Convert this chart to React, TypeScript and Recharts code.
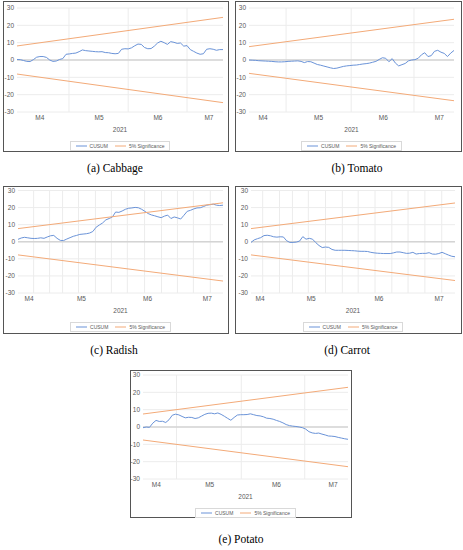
import React from 'react';
import { LineChart, Line, XAxis, YAxis, CartesianGrid, ReferenceLine, Legend } from 'recharts';

const monthLabels = ['M4', 'M5', 'M6', 'M7'];
const yTicks = [-30, -20, -10, 0, 10, 20, 30];
const legendOrder = ['CUSUM', '5% Significance'];

// CUSUM values, one per observation (64 observations, Apr - Jul 2021)
const cabbageCusum = [
  0.3, 0.2, -0.3, -0.8, -0.9, 0.2, 1.6, 2.0, 2.0, 1.5,
  0.0, -0.8, -0.6, 0.3, 0.8, 3.3, 3.5, 3.8, 4.0, 4.8,
  5.8, 5.4, 5.2, 5.0, 4.8, 4.7, 4.8, 4.3, 4.2, 3.8,
  3.6, 3.8, 6.2, 6.5, 6.4, 7.0, 8.2, 9.2, 9.0, 7.2,
  6.5, 6.6, 8.0, 9.8, 10.8, 10.0, 9.0, 10.6, 10.2, 9.6,
  9.8, 8.0, 8.3, 6.0, 5.0, 4.0, 3.3, 3.6, 6.2, 6.5,
  6.2, 5.6, 6.0, 6.0,
];
const tomatoCusum = [
  0, -0.1, -0.2, -0.4, -0.5, -0.6, -0.7, -0.8, -1.0, -1.1,
  -1.1, -1.0, -0.8, -0.7, -0.6, -0.5, -0.8, -1.5, -0.9, -1.0,
  -1.8, -2.6, -3.0, -3.5, -4.0, -4.5, -4.9, -4.7, -4.2, -3.7,
  -3.4, -3.2, -3.0, -2.9, -2.6, -2.3, -2.1, -1.8, -1.3, -0.8,
  0.3, 1.3, 1.0, -1.0, 0.8, -1.8, -3.4, -2.7, -2.0, -0.5,
  0.0, 0.2, 1.0, 3.0, 4.2, 2.0, 2.5, 5.0, 5.6, 4.5,
  3.8, 2.0, 4.0, 5.5,
];
const radishCusum = [
  1.4, 2.2, 2.6, 2.3, 2.0, 1.9, 2.0, 2.3, 2.0, 2.8,
  3.5, 3.7, 2.0, 0.8, 0.7, 1.6, 2.4, 3.2, 3.7, 4.3,
  4.5, 4.7, 5.1, 6.0, 8.5, 9.8, 11.0, 12.8, 13.6, 14.5,
  17.4, 17.2, 18.0, 19.0, 19.6, 19.8, 20.1, 19.9, 19.0, 17.8,
  16.5, 15.7, 15.2, 14.6, 14.1, 15.0, 15.6, 13.6, 14.5, 14.0,
  13.3, 15.5, 17.8, 18.4, 19.2, 19.8, 19.9, 20.6, 21.4, 21.7,
  22.0, 21.4, 21.2, 21.4,
];
const carrotCusum = [
  -0.4, 1.1, 1.8, 2.4, 3.6, 3.8, 3.5, 2.9, 2.7, 2.9,
  2.8, 0.6, -0.4, -0.4, -0.2, 0.4, 3.0, 1.5, 2.0, 1.5,
  -0.5, -2.2, -3.4, -3.1, -3.3, -4.5, -5.0, -5.0, -5.0, -5.0,
  -5.1, -5.2, -5.3, -5.5, -5.6, -5.6, -5.7, -6.2, -6.5, -6.7,
  -6.8, -6.9, -6.9, -6.9, -6.5, -6.0, -6.0, -6.4, -6.8, -6.7,
  -6.2, -7.2, -6.9, -6.8, -6.8, -6.4, -7.2, -7.3, -6.9, -6.2,
  -7.0, -7.8, -8.5, -8.8,
];
const potatoCusum = [
  -0.4, 0.0, -0.2, 2.2, 3.8, 3.2, 3.3, 2.6, 4.2, 6.8,
  7.4, 7.0, 6.1, 5.3, 5.6, 5.5, 4.9, 5.3, 6.3, 7.3,
  7.9, 8.0, 7.6, 8.1, 7.3, 6.2, 5.0, 3.9, 5.5, 6.9,
  7.1, 7.1, 7.2, 7.6, 7.1, 6.6, 6.4, 5.9, 5.1, 4.9,
  4.5, 3.8, 3.2, 2.4, 1.4, 0.8, 0.5, 0.3, 0.0, -0.4,
  -1.2, -2.7, -3.4, -3.7, -3.5, -4.1, -4.6, -5.2, -5.3, -5.5,
  -6.0, -6.4, -6.8, -7.1,
];

// 5% significance bounds: [first observation, last observation]
const cabbageUpper = [8.1, 24.6];
const cabbageLower = [-8.1, -24.6];
const tomatoUpper = [7.7, 23.5];
const tomatoLower = [-7.7, -23.5];
const radishUpper = [7.7, 22.8];
const radishLower = [-7.7, -23.0];
const carrotUpper = [7.7, 22.7];
const carrotLower = [-7.7, -22.7];
const potatoUpper = [7.5, 22.9];
const potatoLower = [-7.5, -22.9];

// observation index where each month label sits
const cabbageMonthAt = [7.0, 25.1, 43.1, 58.7];
const tomatoMonthAt = [4.3, 21.4, 41.3, 58.5];
const radishMonthAt = [3.4, 19.5, 39.8, 58.2];
const carrotMonthAt = [2.8, 18.6, 39.5, 58.1];
const potatoMonthAt = [4.1, 20.5, 41.0, 58.4];

// observation index of vertical gridlines
const cabbageGrid = [15.9, 34.0, 52.0];
const tomatoGrid = [11.4, 31.4, 50.7];
const radishGrid = [4.8, 9.7, 13.7, 18.6, 23.8, 28.7, 33.6, 38.9, 44.1, 49.0, 53.9, 59.1];
const carrotGrid = [3.6, 8.8, 12.8, 17.7, 23.0, 28.2, 33.1, 38.3, 43.5, 48.5, 53.7, 58.9];
const potatoGrid = [10.3, 30.2, 49.7];

const BLUE = '#6a93d8';
const ORANGE = '#f3aa78';
const TEXT = '#595959';
const FONT = '"Liberation Sans", Arial, sans-serif';

const bandRows = (pair: number[], last: number) => [
  { x: 0, y: pair[0] },
  { x: last, y: pair[1] },
];

const LegendBox = ({ payload }: any) => {
  const items = legendOrder
    .map((name) => (payload || []).find((p: any) => p.value === name))
    .filter(Boolean);
  return (
    <div style={{ height: 19, display: 'flex', alignItems: 'flex-end', justifyContent: 'center' }}>
      <div
        style={{
          display: 'flex',
          alignItems: 'center',
          flexShrink: 0,
          whiteSpace: 'nowrap',
          border: '1px solid #d9d9d9',
          height: 8,
          padding: '0 5px',
          fontFamily: FONT,
          fontSize: 5,
          lineHeight: '8px',
          color: TEXT,
          gap: 7,
        }}
      >
        {items.map((p: any) => (
          <span key={p.value} style={{ display: 'flex', alignItems: 'center', gap: 3, flexShrink: 0 }}>
            <svg width={11} height={4} style={{ flexShrink: 0 }}>
              <line x1={0} y1={2} x2={11} y2={2} stroke={p.color} strokeWidth={1} />
            </svg>
            <span style={{ flexShrink: 0 }}>{p.value}</span>
          </span>
        ))}
      </div>
    </div>
  );
};

interface Box {
  left: number;
  top: number;
  w: number;
  h: number;
  pl: number;
  pr: number;
  pt: number;
  pb: number;
}

interface PanelProps {
  title: string;
  cusum: number[];
  upper: number[];
  lower: number[];
  monthAt: number[];
  grid: number[];
  box: Box;
  captionX: number;
  captionY: number;
}

const Panel = ({ title, cusum, upper, lower, monthAt, grid, box, captionX, captionY }: PanelProps) => {
  const last = cusum.length - 1;
  const rows = cusum.map((v, i) => ({ x: i, v }));
  const cw = box.w - 2;
  const ch = box.h - 2;
  const axisW = box.pl - 1;
  const right = box.w - 1 - box.pr;
  const xAxisH = 20;
  const bottomOff = box.h - 1 - box.pb;
  return (
    <>
      <div
        style={{
          position: 'absolute',
          left: box.left,
          top: box.top,
          width: box.w,
          height: box.h,
          boxSizing: 'border-box',
          border: '1px solid #555',
          background: '#fff',
        }}
      >
        <LineChart
          width={cw}
          height={ch}
          data={rows}
          margin={{ top: box.pt - 1, right, left: 0, bottom: bottomOff - xAxisH - 19 }}
          style={{ overflow: 'visible' }}
        >
          <CartesianGrid vertical={false} stroke="#ececec" />
          {grid.map((g) => (
            <ReferenceLine key={g} x={g} stroke="#ececec" />
          ))}
          <ReferenceLine y={0} stroke="#d4d4d4" strokeWidth={1.3} />
          <XAxis
            type="number"
            dataKey="x"
            domain={[0, last]}
            ticks={monthAt}
            tickFormatter={(_v: number, i: number) => monthLabels[i]}
            axisLine={false}
            tickLine={false}
            tickSize={0}
            tickMargin={3}
            height={xAxisH}
            interval={0}
            tick={{ fontSize: 6.5, fill: TEXT, fontFamily: FONT }}
            label={{ value: '2021', position: 'insideBottom', offset: 0, fontSize: 6.5, fill: TEXT, fontFamily: FONT }}
          />
          <YAxis
            type="number"
            domain={[-30, 30]}
            ticks={yTicks}
            width={axisW}
            axisLine={false}
            tickLine={false}
            tickSize={0}
            tickMargin={3}
            interval={0}
            tick={{ fontSize: 6.5, fill: TEXT, fontFamily: FONT }}
          />
          <Line
            dataKey="v"
            name="CUSUM"
            stroke={BLUE}
            strokeWidth={1}
            dot={false}
            isAnimationActive={false}
          />
          <Line
            data={bandRows(upper, last)}
            dataKey="y"
            name="5% Significance"
            stroke={ORANGE}
            strokeWidth={1}
            dot={false}
            isAnimationActive={false}
          />
          <Line
            data={bandRows(lower, last)}
            dataKey="y"
            name="lower"
            legendType="none"
            stroke={ORANGE}
            strokeWidth={1}
            dot={false}
            isAnimationActive={false}
          />
          <Legend
            verticalAlign="bottom"
            content={<LegendBox />}
            wrapperStyle={{ left: axisW, width: cw - axisW - right }}
          />
        </LineChart>
      </div>
      <div
        style={{
          position: 'absolute',
          left: captionX,
          top: captionY,
          transform: 'translate(-50%, -50%)',
          whiteSpace: 'nowrap',
          fontFamily: '"Liberation Serif", "Times New Roman", serif',
          fontSize: 11.5,
          color: '#000',
        }}
      >
        {title}
      </div>
    </>
  );
};

export default function App() {
  return (
    <div style={{ position: 'absolute', left: 0, top: 0, width: 463, height: 550, background: '#fff', overflow: 'hidden' }}>
      <Panel
        title="(a) Cabbage"
        cusum={cabbageCusum}
        upper={cabbageUpper}
        lower={cabbageLower}
        monthAt={cabbageMonthAt}
        grid={cabbageGrid}
        box={{ left: 3, top: 1, w: 226, h: 151, pl: 14, pr: 220, pt: 7, pb: 111 }}
        captionX={115}
        captionY={168}
      />
      <Panel
        title="(b) Tomato"
        cusum={tomatoCusum}
        upper={tomatoUpper}
        lower={tomatoLower}
        monthAt={tomatoMonthAt}
        grid={tomatoGrid}
        box={{ left: 235, top: 1, w: 227, h: 151, pl: 14, pr: 219, pt: 7, pb: 111 }}
        captionX={357}
        captionY={168}
      />
      <Panel
        title="(c) Radish"
        cusum={radishCusum}
        upper={radishUpper}
        lower={radishLower}
        monthAt={radishMonthAt}
        grid={radishGrid}
        box={{ left: 3, top: 186, w: 226, h: 148, pl: 15, pr: 220, pt: 4.5, pb: 107 }}
        captionX={114}
        captionY={350}
      />
      <Panel
        title="(d) Carrot"
        cusum={carrotCusum}
        upper={carrotUpper}
        lower={carrotLower}
        monthAt={carrotMonthAt}
        grid={carrotGrid}
        box={{ left: 235, top: 186, w: 227, h: 148, pl: 16, pr: 220, pt: 4.5, pb: 107 }}
        captionX={347}
        captionY={350}
      />
      <Panel
        title="(e) Potato"
        cusum={potatoCusum}
        upper={potatoUpper}
        lower={potatoLower}
        monthAt={potatoMonthAt}
        grid={potatoGrid}
        box={{ left: 130, top: 370, w: 222, h: 148, pl: 13, pr: 218, pt: 5, pb: 109 }}
        captionX={241}
        captionY={539}
      />
    </div>
  );
}
